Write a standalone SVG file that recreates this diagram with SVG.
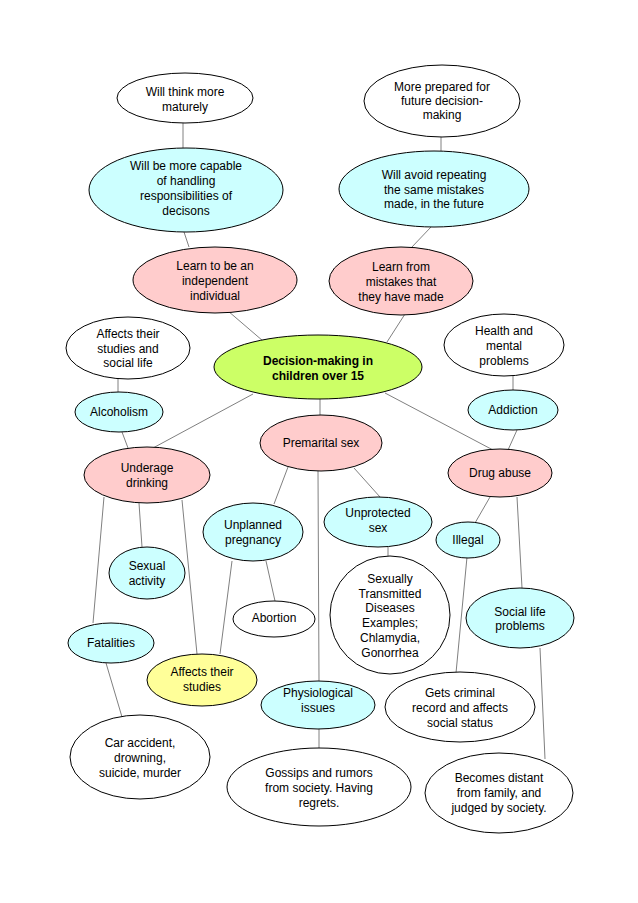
<svg xmlns="http://www.w3.org/2000/svg" width="638" height="903" viewBox="0 0 638 903">
<style>
.n ellipse{stroke:#000;stroke-width:1}
.w{fill:#fff}.c{fill:#ccffff}.p{fill:#ffcccc}.g{fill:#ccff66}.y{fill:#ffff99}
text{font-family:"Liberation Sans",Arial,sans-serif;font-size:12px;fill:#000;text-anchor:middle}
.b{font-weight:bold}
#edges line{stroke:#808080;stroke-width:1}
</style>
<rect width="638" height="903" fill="#fff"/>
<g id="edges">
<line x1="183" y1="123" x2="183" y2="148"/>
<line x1="184" y1="232" x2="189" y2="247"/>
<line x1="228" y1="311" x2="263" y2="341"/>
<line x1="441" y1="137" x2="441" y2="151"/>
<line x1="431" y1="227" x2="411" y2="248"/>
<line x1="405" y1="314" x2="387" y2="342"/>
<line x1="118" y1="379" x2="118" y2="392"/>
<line x1="122" y1="432" x2="128" y2="448"/>
<line x1="253" y1="394" x2="153" y2="448"/>
<line x1="320" y1="399" x2="320" y2="415"/>
<line x1="385" y1="393" x2="493" y2="450"/>
<line x1="513" y1="376" x2="513" y2="390"/>
<line x1="517" y1="430" x2="508" y2="450"/>
<line x1="288" y1="467" x2="274" y2="504"/>
<line x1="318" y1="471" x2="319" y2="681"/>
<line x1="354" y1="468" x2="380" y2="497"/>
<line x1="104" y1="497" x2="93" y2="623"/>
<line x1="139" y1="503" x2="142" y2="547"/>
<line x1="182" y1="500" x2="197" y2="654"/>
<line x1="232" y1="561" x2="220" y2="654"/>
<line x1="266" y1="561" x2="275" y2="601"/>
<line x1="388" y1="547" x2="388" y2="557"/>
<line x1="490" y1="497" x2="475" y2="523"/>
<line x1="517" y1="497" x2="522" y2="588"/>
<line x1="467" y1="557" x2="456" y2="673"/>
<line x1="540" y1="648" x2="545" y2="759"/>
<line x1="106" y1="663" x2="122" y2="717"/>
<line x1="319" y1="729" x2="319" y2="748"/>
</g>
<g id="n-think" class="n"><ellipse class="w" cx="185" cy="98" rx="68" ry="25"/><text x="185" y="96">Will think more<tspan x="185" dy="15">maturely</tspan></text></g>
<g id="n-capable" class="n"><ellipse class="c" cx="186" cy="190" rx="97" ry="42"/><text x="186" y="170">Will be more capable<tspan x="186" dy="15">of handling</tspan><tspan x="186" dy="15">responsibilities of</tspan><tspan x="186" dy="15">decisons</tspan></text></g>
<g id="n-independent" class="n"><ellipse class="p" cx="215" cy="280" rx="82" ry="33"/><text x="215" y="270">Learn to be an<tspan x="215" dy="15">independent</tspan><tspan x="215" dy="15">individual</tspan></text></g>
<g id="n-prepared" class="n"><ellipse class="w" cx="442" cy="101" rx="78" ry="36"/><text x="442" y="91">More prepared for<tspan x="442" dy="14">future decision-</tspan><tspan x="442" dy="14">making</tspan></text></g>
<g id="n-avoid" class="n"><ellipse class="c" cx="434" cy="189" rx="95" ry="38"/><text x="434" y="179">Will avoid repeating<tspan x="434" dy="15">the same mistakes</tspan><tspan x="434" dy="14">made, in the future</tspan></text></g>
<g id="n-learnfrom" class="n"><ellipse class="p" cx="401" cy="281" rx="72" ry="34"/><text x="401" y="271">Learn from<tspan x="401" dy="15">mistakes that</tspan><tspan x="401" dy="15">they have made</tspan></text></g>
<g id="n-center" class="n"><ellipse class="g" cx="318" cy="367" rx="104" ry="32"/><text class="b" x="318" y="365">Decision-making in<tspan x="318" dy="15">children over 15</tspan></text></g>
<g id="n-studiessocial" class="n"><ellipse class="w" cx="128" cy="348" rx="62" ry="31"/><text x="128" y="338">Affects their<tspan x="128" dy="14.5">studies and</tspan><tspan x="128" dy="14.5">social life</tspan></text></g>
<g id="n-health" class="n"><ellipse class="w" cx="504" cy="345" rx="60" ry="31"/><text x="504" y="335">Health and<tspan x="504" dy="15">mental</tspan><tspan x="504" dy="15">problems</tspan></text></g>
<g id="n-alcoholism" class="n"><ellipse class="c" cx="119" cy="412" rx="44" ry="20"/><text x="119" y="416">Alcoholism</text></g>
<g id="n-addiction" class="n"><ellipse class="c" cx="513" cy="410" rx="45" ry="20"/><text x="513" y="414">Addiction</text></g>
<g id="n-premarital" class="n"><ellipse class="p" cx="321" cy="443" rx="61" ry="28"/><text x="321" y="447">Premarital sex</text></g>
<g id="n-underage" class="n"><ellipse class="p" cx="147" cy="475" rx="63" ry="28"/><text x="147" y="472">Underage<tspan x="147" dy="15">drinking</tspan></text></g>
<g id="n-drug" class="n"><ellipse class="p" cx="500" cy="473" rx="52" ry="24"/><text x="500" y="477">Drug abuse</text></g>
<g id="n-unplanned" class="n"><ellipse class="c" cx="253" cy="532" rx="50" ry="29"/><text x="253" y="529">Unplanned<tspan x="253" dy="15">pregnancy</tspan></text></g>
<g id="n-unprotected" class="n"><ellipse class="c" cx="378" cy="522" rx="54" ry="25"/><text x="378" y="517">Unprotected<tspan x="378" dy="14.5">sex</tspan></text></g>
<g id="n-illegal" class="n"><ellipse class="c" cx="468" cy="540" rx="32" ry="18"/><text x="468" y="544">Illegal</text></g>
<g id="n-sexual" class="n"><ellipse class="c" cx="147" cy="573" rx="38" ry="26"/><text x="147" y="570">Sexual<tspan x="147" dy="14.5">activity</tspan></text></g>
<g id="n-std" class="n"><ellipse class="w" cx="390" cy="615" rx="60" ry="59"/><text x="390" y="583">Sexually<tspan x="390" dy="14.7">Transmitted</tspan><tspan x="390" dy="14.7">Diseases</tspan><tspan x="390" dy="14.7">Examples;</tspan><tspan x="390" dy="14.7">Chlamydia,</tspan><tspan x="390" dy="14.7">Gonorrhea</tspan></text></g>
<g id="n-abortion" class="n"><ellipse class="w" cx="274" cy="619" rx="41" ry="18"/><text x="274" y="622">Abortion</text></g>
<g id="n-social" class="n"><ellipse class="c" cx="520" cy="618" rx="54" ry="30"/><text x="520" y="616">Social life<tspan x="520" dy="14">problems</tspan></text></g>
<g id="n-fatalities" class="n"><ellipse class="c" cx="111" cy="643" rx="43" ry="20"/><text x="111" y="647">Fatalities</text></g>
<g id="n-affects" class="n"><ellipse class="y" cx="202" cy="680" rx="55" ry="26"/><text x="202" y="676">Affects their<tspan x="202" dy="14.5">studies</tspan></text></g>
<g id="n-physio" class="n"><ellipse class="c" cx="318" cy="705" rx="57" ry="24"/><text x="318" y="697">Physiological<tspan x="318" dy="15">issues</tspan></text></g>
<g id="n-criminal" class="n"><ellipse class="w" cx="460" cy="707" rx="75" ry="35"/><text x="460" y="697">Gets criminal<tspan x="460" dy="15">record and affects</tspan><tspan x="460" dy="15">social status</tspan></text></g>
<g id="n-car" class="n"><ellipse class="w" cx="140" cy="757" rx="70" ry="42"/><text x="140" y="747">Car accident,<tspan x="140" dy="15">drowning,</tspan><tspan x="140" dy="15">suicide, murder</tspan></text></g>
<g id="n-gossips" class="n"><ellipse class="w" cx="319" cy="787" rx="92" ry="39"/><text x="319" y="777">Gossips and rumors<tspan x="319" dy="15">from society. Having</tspan><tspan x="319" dy="15">regrets.</tspan></text></g>
<g id="n-distant" class="n"><ellipse class="w" cx="499" cy="793" rx="74" ry="40"/><text x="499" y="782">Becomes distant<tspan x="499" dy="15">from family, and</tspan><tspan x="499" dy="14.5">judged by society.</tspan></text></g>
</svg>
